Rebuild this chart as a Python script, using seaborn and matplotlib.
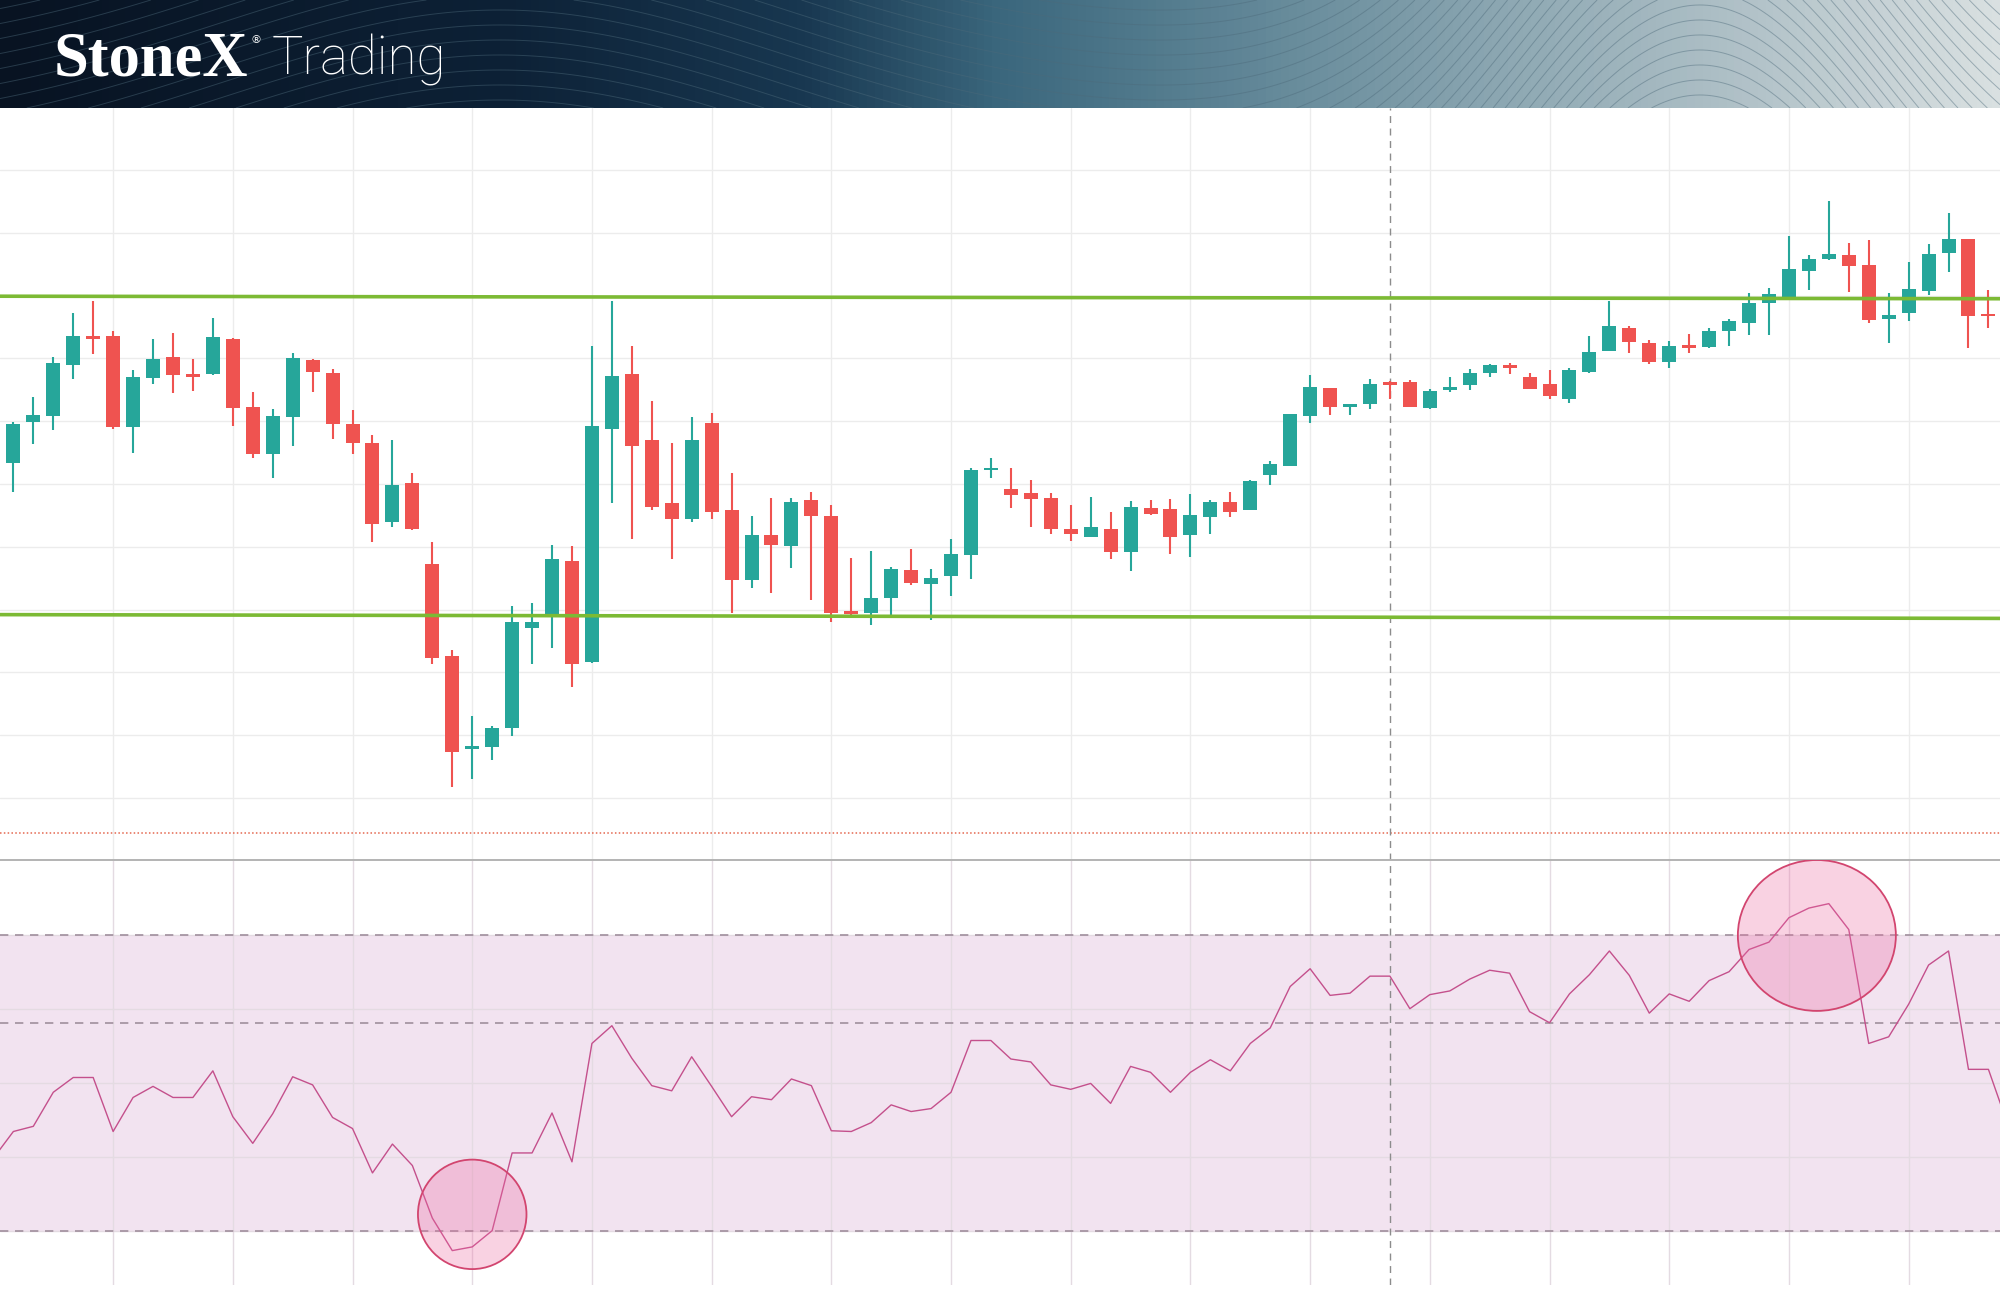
import numpy as np
import pandas as pd
import matplotlib
matplotlib.use("Agg")
import matplotlib.pyplot as plt
import seaborn as sns
from matplotlib.colors import LinearSegmentedColormap
from matplotlib.patches import Ellipse

# === 1. Data (price units: one grid step = 10) ===
opens = [149.0, 153.3, 159.8, 160.8, 168.9, 173.5, 173.6, 159.1, 166.8, 170.2,
         167.4, 167.5, 173.1, 162.2, 154.7, 160.7, 169.7, 167.6, 159.5, 156.6,
         143.9, 150.1, 137.3, 122.6, 107.9, 108.1, 111.2, 127.1, 129.2, 137.7,
         121.7, 158.7, 167.5, 157.0, 146.9, 144.4, 159.7, 145.8, 134.7, 141.9,
         140.1, 147.5, 144.9, 129.6, 129.5, 131.8, 136.3, 134.1, 135.4, 138.7,
         152.3, 149.2, 148.5, 147.7, 142.9, 141.6, 142.9, 139.1, 146.2, 146.0,
         141.8, 144.7, 147.1, 145.8, 151.4, 152.9, 160.8, 165.3, 162.3, 162.7,
         166.2, 166.2, 162.1, 164.9, 165.7, 167.6, 168.9, 167.0, 166.0, 163.5,
         167.9, 171.1, 174.8, 172.5, 169.4, 172.0, 171.8, 174.3, 175.7, 178.9,
         179.7, 183.9, 185.8, 186.5, 184.8, 176.2, 177.2, 180.7, 186.8, 189.0,
         177.0]
highs = [154.5, 159.9, 163.9, 170.2, 177.2, 179.1, 174.3, 168.2, 173.1, 174.0,
         169.9, 176.5, 173.3, 164.7, 161.9, 170.9, 169.9, 168.3, 161.8, 157.8,
         157.0, 151.8, 140.8, 123.6, 113.1, 111.5, 130.5, 131.0, 140.3, 140.2,
         172.0, 179.1, 172.0, 163.2, 156.6, 160.6, 161.3, 151.8, 144.9, 147.7,
         147.7, 148.7, 146.7, 138.2, 139.4, 136.8, 139.6, 136.4, 141.2, 152.5,
         154.1, 152.5, 150.6, 148.5, 146.6, 147.9, 145.5, 147.3, 147.5, 147.6,
         148.4, 147.5, 148.7, 150.6, 153.6, 161.1, 167.4, 165.3, 162.7, 166.7,
         166.4, 166.6, 165.2, 167.1, 168.3, 169.1, 169.2, 167.7, 168.1, 168.4,
         173.6, 179.2, 175.1, 173.0, 172.8, 173.9, 174.8, 176.2, 180.4, 181.2,
         189.5, 186.5, 195.1, 188.3, 188.9, 180.4, 185.3, 188.2, 193.2, 189.0,
         180.9]
lows = [147.5, 148.8, 156.3, 158.6, 166.7, 170.7, 158.8, 154.9, 165.9, 164.5,
        164.8, 167.3, 159.3, 154.1, 150.9, 156.1, 164.6, 157.1, 154.8, 140.7,
        143.2, 142.7, 121.4, 101.8, 103.1, 106.1, 109.9, 121.4, 123.9, 117.6,
        121.5, 147.0, 141.3, 145.9, 138.0, 144.0, 144.4, 129.5, 133.4, 132.6,
        136.6, 131.5, 128.1, 129.1, 127.5, 129.1, 133.9, 128.3, 132.1, 134.9,
        150.9, 146.1, 143.2, 142.1, 140.9, 141.6, 138.0, 136.1, 145.1, 138.9,
        138.3, 142.1, 144.7, 145.8, 149.8, 152.9, 159.7, 161.0, 161.0, 162.0,
        163.5, 162.2, 162.0, 164.6, 164.9, 167.0, 167.5, 165.1, 163.5, 162.9,
        167.7, 171.1, 170.8, 169.1, 168.4, 170.9, 171.7, 171.9, 173.7, 173.7,
        179.7, 180.9, 185.6, 180.6, 175.7, 172.5, 175.9, 180.1, 183.8, 171.7,
        174.9]
closes = [153.5, 159.6, 161.0, 169.3, 173.6, 173.2, 159.0, 167.1, 169.9, 167.3,
          167.1, 173.4, 162.1, 154.7, 160.8, 170.0, 167.8, 159.6, 156.6, 143.6,
          149.9, 142.8, 122.3, 107.4, 108.3, 111.1, 128.1, 128.1, 138.0, 121.4,
          159.3, 167.2, 156.1, 146.4, 144.4, 157.0, 145.6, 134.7, 141.9, 140.3,
          147.2, 144.9, 129.5, 129.4, 131.8, 136.5, 134.2, 135.1, 138.8, 152.2,
          152.5, 148.2, 147.6, 142.8, 142.0, 143.1, 139.1, 146.3, 145.2, 141.6,
          145.0, 147.1, 145.6, 150.5, 153.2, 161.1, 165.5, 162.2, 162.6, 165.9,
          165.9, 162.3, 164.8, 165.5, 167.7, 168.9, 168.6, 165.2, 164.0, 168.2,
          171.0, 175.1, 172.6, 169.4, 172.0, 171.7, 174.4, 175.9, 178.8, 180.3,
          184.2, 185.8, 186.7, 184.7, 176.1, 176.9, 181.1, 186.7, 189.0, 176.8,
          176.8]
rsi = [39.8, 43.4, 44.1, 48.7, 50.7, 50.7, 43.4, 48.0, 49.5, 48.0,
       48.0, 51.6, 45.4, 41.8, 45.8, 50.8, 49.7, 45.3, 43.8, 37.8,
       41.7, 38.8, 31.7, 27.3, 27.8, 30.0, 40.5, 40.5, 45.9, 39.3,
       55.3, 57.7, 53.3, 49.6, 48.9, 53.5, 49.5, 45.4, 48.1, 47.7,
       50.5, 49.6, 43.5, 43.4, 44.6, 47.0, 46.1, 46.5, 48.7, 55.7,
       55.7, 53.2, 52.8, 49.7, 49.1, 49.9, 47.2, 52.2, 51.4, 48.7,
       51.4, 53.1, 51.6, 55.3, 57.4, 63.0, 65.4, 61.8, 62.1, 64.4,
       64.4, 60.0, 61.9, 62.4, 64.0, 65.2, 64.8, 59.6, 58.1, 62.0,
       64.6, 67.8, 64.5, 59.4, 62.0, 61.0, 63.8, 65.0, 68.0, 69.0,
       72.3, 73.6, 74.2, 70.7, 55.3, 56.2, 60.6, 65.9, 67.8, 51.8,
       51.8, 44.1]

resistance = [179.9, 179.5]     # left end, right end
support = [129.2, 128.6]
rsi_levels = [70, 58, 30]
rsi_band = [30, 70]
marker_price = 94.4             # red dotted line
cursor_bar = 70                 # dashed crosshair
hl_bar = [24, 91.4]             # highlighted RSI extremes
hl_rsi = [32.2, 69.9]

candles = pd.DataFrame({"open": opens, "high": highs, "low": lows, "close": closes})
candles["bar"] = np.arange(len(candles))
rsi_df = pd.DataFrame({"bar": np.arange(len(rsi)), "rsi": rsi})

TEAL, RED = "#26a69a", "#ef5350"
XLIM = (0.33, 100.58)

# === 2. Layout (pixel rows of the 2000x1293 canvas) ===
sns.set_theme(style="white")
W, H = 2000, 1293
fig = plt.figure(figsize=(W / 100, H / 100), dpi=100, facecolor="white")


def band(top, bottom):
    return [0, 1 - bottom / H, 1, (bottom - top) / H]


ax_head = fig.add_axes(band(0, 108))
ax_p = fig.add_axes(band(108, 860))
ax_r = fig.add_axes(band(860, 1285))

# === 3. Header banner ===
cmap = LinearSegmentedColormap.from_list("hdr", [
    (0.0, "#081322"), (0.25, "#0d2136"), (0.4, "#183750"), (0.5, "#3b677d"),
    (0.62, "#5f8596"), (0.75, "#8ca7b2"), (0.88, "#b3c3c9"), (1.0, "#d9e0e1")])
ax_head.imshow(np.linspace(0, 1, 512)[None, :], aspect="auto", cmap=cmap,
               extent=(0, W, 108, 0))
xx, yy = np.meshgrid(np.linspace(0, W, 500), np.linspace(0, 108, 80))
field = yy + 380 * np.exp(-((xx - 1700) / 260) ** 2) + 150 * np.exp(-((xx - 500) / 400) ** 2)
ax_head.contour(xx, yy, field, levels=np.arange(-20, 560, 15),
                colors="#4d6a7a", linewidths=0.7, alpha=0.45)
ax_head.set_xlim(0, W)
ax_head.set_ylim(108, 0)
ax_head.axis("off")
ax_head.text(54, 75, "StoneX", family=["Liberation Serif", "DejaVu Serif"],
             weight="bold", fontsize=45, color="white", va="baseline")
ax_head.text(250, 43, "®", fontsize=8, color="white", va="baseline")
ax_head.text(272, 75, "Trading", family=["Roboto", "DejaVu Sans"], weight="light",
             fontsize=38, color="white", va="baseline")

# === 4. Price panel ===
up = candles["close"] >= candles["open"]
colors = np.where(up, TEAL, RED)
ax_p.vlines(candles["bar"], candles["low"], candles["high"], colors=colors, lw=1.5, zorder=3)
body = (candles["close"] - candles["open"]).abs().clip(lower=0.45)
mid = (candles["close"] + candles["open"]) / 2
ax_p.bar(candles["bar"], body, bottom=mid - body / 2, width=0.7, color=colors, lw=0, zorder=4)

ax_p.plot(XLIM, resistance, color="#7cba34", lw=2.6, zorder=5)
ax_p.plot(XLIM, support, color="#7cba34", lw=2.6, zorder=5)
ax_p.axhline(marker_price, color="#e4674f", lw=1.1, ls=(0, (1, 1.5)))
ax_p.axvline(cursor_bar, color="#8c8c8c", lw=1, ls=(0, (5, 4)), zorder=2)

ax_p.set_xlim(*XLIM)
ax_p.set_ylim(90.13, 209.87)
ax_p.set_xticks(np.arange(6, 100, 6))
ax_p.set_yticks(np.arange(100, 201, 10))
ax_p.grid(True, color="#ececec", lw=1)
ax_p.tick_params(length=0, labelbottom=False, labelleft=False)
for s in ax_p.spines.values():
    s.set_visible(False)

# === 5. RSI panel ===
ax_r.axhspan(*rsi_band, color="#f2e3f0", lw=0, zorder=0)
for lv in rsi_levels:
    ax_r.axhline(lv, color="#a08f9d", lw=1.2, ls=(0, (5, 4)), zorder=2)
ax_r.axvline(cursor_bar, color="#8c8c8c", lw=1, ls=(0, (5, 4)), zorder=2)
sns.lineplot(data=rsi_df, x="bar", y="rsi", ax=ax_r, color="#c4508c", lw=1.0, zorder=3)
for bx, by, w, h in zip(hl_bar, hl_rsi, [5.44, 7.92], [14.8, 20.4]):
    ax_r.add_patch(Ellipse((bx, by), w, h, facecolor=(0.93, 0.42, 0.63, 0.3),
                           edgecolor="#d2456f", lw=1.3, zorder=4))

ax_r.set_xlim(*XLIM)
ax_r.set_ylim(22.65, 80.1)
ax_r.set_xticks(np.arange(6, 100, 6))
ax_r.set_yticks([30, 40, 50, 60, 70])
ax_r.grid(True, color="#e4dbe2", lw=1)
ax_r.set_axisbelow(True)
ax_r.set_xlabel("")
ax_r.set_ylabel("")
ax_r.tick_params(length=0, labelbottom=False, labelleft=False)
for name, s in ax_r.spines.items():
    s.set_visible(name == "top")
ax_r.spines["top"].set_color("#b3b3b3")
ax_r.spines["top"].set_linewidth(1.4)

fig.savefig("out.png", dpi=100, facecolor="white")
